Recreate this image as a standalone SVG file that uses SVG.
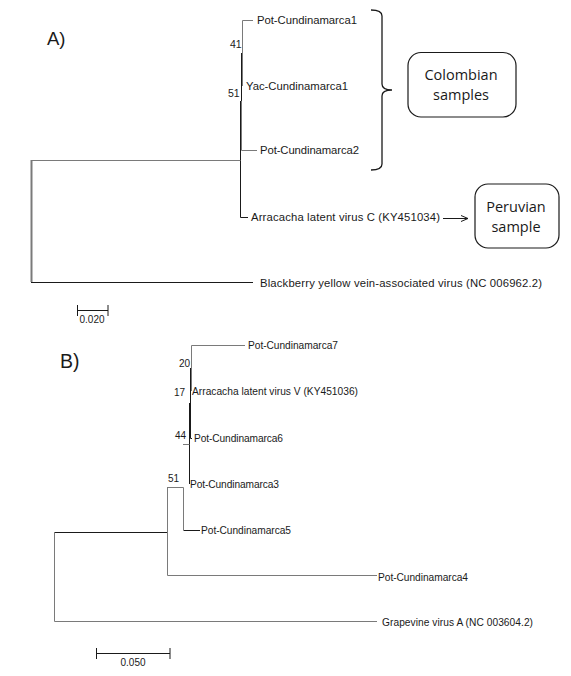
<svg xmlns="http://www.w3.org/2000/svg" width="571" height="676" viewBox="0 0 571 676">
<style>
text{font-family:"Liberation Sans",Arial,sans-serif;fill:#1a1a1a}
.la{font-size:11.3px}
.lb{font-size:10.2px}
.bs{font-size:10.5px}
.bsb{font-size:10px}
.big{font-size:18.5px}
.box{font-family:"Open Sans","Liberation Sans",sans-serif;font-size:14.5px;text-anchor:middle}
.g{stroke:#7a7a7a;stroke-width:1;fill:none}
.k{stroke:#1a1a1a;stroke-width:1;fill:none}
.rb{fill:#fff;stroke:#1a1a1a;stroke-width:1.2}
</style>
<defs>
<marker id="arr" markerWidth="10" markerHeight="10" refX="7" refY="4" orient="auto" markerUnits="userSpaceOnUse">
<path d="M0,1 L7,4 L0,7" fill="none" stroke="#1a1a1a" stroke-width="1"/>
</marker>
</defs>
<rect width="571" height="676" fill="#fff"/>

<text class="big" x="47" y="45">A)</text>
<text class="big" x="60" y="368" style="font-size:19.5px">B)</text>

<g id="connectors">
<!-- Panel A -->
<path class="g" d="M253,20.5 H242.5 V86"/>
<path class="k" d="M241.5,53 V101"/>
<path class="g" d="M241.5,101 V150.5 H257"/>
<path class="k" d="M240.5,101 V217.5 H248"/>
<path class="g" d="M31,160.5 H240.5"/>
<path d="M31.5,160 V282" stroke="#7a7a7a" stroke-width="2" fill="none"/>
<path class="k" d="M31,282.5 H253"/>
<path class="k" d="M77.5,310.5 H108 M77.5,305 V316 M108,305 V316"/>
<!-- brace & arrow -->
<path d="M371,10 Q382,10 382,16 L382,84 Q382,90 392,90 Q382,90 382,96 L382,164 Q382,170 371,170" fill="none" stroke="#1a1a1a" stroke-width="1.3"/>
<line x1="443" y1="218.5" x2="468" y2="218.5" stroke="#1a1a1a" stroke-width="1" marker-end="url(#arr)"/>
<!-- Panel B -->
<path class="g" d="M245,345.5 H191.5 V391"/>
<path class="k" d="M190.5,368 V438.5 H192"/>
<path class="k" d="M189.5,403 V484"/>
<path class="g" d="M183,444.5 H189.5"/>
<path class="g" d="M167,487.5 H183.5 V530"/>
<path class="k" d="M183.5,530.5 H200"/>
<path class="k" d="M54,532.5 H167"/>
<path class="g" d="M167.5,487 V575.5 H377"/>
<path class="g" d="M54.5,532 V621.5 H377"/>
<path class="k" d="M96.5,653.5 H170 M96.5,648 V659 M170,648 V659"/>
</g>

<g id="bootstrap">
<text class="bs" x="230" y="48">41</text>
<text class="bs" x="228" y="97">51</text>
<text class="bsb" x="179" y="367">20</text>
<text class="bsb" x="174" y="396">17</text>
<text class="bsb" x="175" y="439">44</text>
<text class="bsb" x="168" y="482">51</text>
</g>

<g id="scale-a"><text class="bsb" x="92" y="323" text-anchor="middle">0.020</text></g>
<g id="scale-b"><text class="bsb" x="133" y="666" text-anchor="middle">0.050</text></g>

<g id="leaf-pot1"><text class="la" x="257" y="24" textLength="100">Pot-Cundinamarca1</text></g>
<g id="leaf-yac1"><text class="la" x="246" y="90" textLength="102">Yac-Cundinamarca1</text></g>
<g id="leaf-pot2"><text class="la" x="260" y="154" textLength="99">Pot-Cundinamarca2</text></g>
<g id="leaf-alvc"><text class="la" x="251" y="221" textLength="189">Arracacha latent virus C (KY451034)</text></g>
<g id="leaf-byvav"><text class="la" x="260" y="287" textLength="282">Blackberry yellow vein-associated virus (NC 006962.2)</text></g>

<g id="box-colombian">
<rect class="rb" x="408" y="52.5" width="108" height="64.5" rx="13"/>
<text class="box" x="461" y="80">Colombian</text>
<text class="box" x="461" y="100">samples</text>
</g>
<g id="box-peruvian">
<rect class="rb" x="475" y="184" width="84" height="64" rx="13"/>
<text class="box" x="516" y="212">Peruvian</text>
<text class="box" x="516" y="232">sample</text>
</g>

<g id="leaf-pot7"><text class="lb" x="248" y="349" textLength="90">Pot-Cundinamarca7</text></g>
<g id="leaf-alvv"><text class="lb" x="192" y="395" textLength="166">Arracacha latent virus V (KY451036)</text></g>
<g id="leaf-pot6"><text class="lb" x="194" y="442" textLength="89">Pot-Cundinamarca6</text></g>
<g id="leaf-pot3"><text class="lb" x="190" y="488" textLength="89">Pot-Cundinamarca3</text></g>
<g id="leaf-pot5"><text class="lb" x="201" y="534" textLength="90">Pot-Cundinamarca5</text></g>
<g id="leaf-pot4"><text class="lb" x="378" y="581" textLength="90">Pot-Cundinamarca4</text></g>
<g id="leaf-gva"><text class="lb" x="382" y="626" textLength="151">Grapevine virus A (NC 003604.2)</text></g>
</svg>
